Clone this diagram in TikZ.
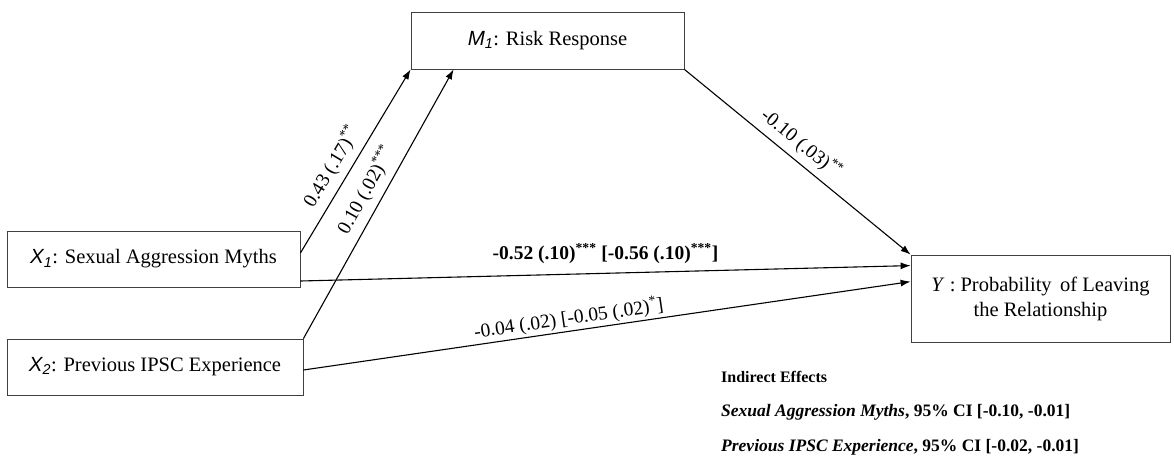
\documentclass[tikz,border=0pt]{standalone}
\usepackage{fontspec}
\setmainfont{Liberation Serif}
\newfontfamily\varfont{Liberation Sans}
\usetikzlibrary{arrows.meta,positioning,calc}

\newcommand{\varX}[1]{{\varfont\itshape X\textsubscript{#1}}\rmfamily\upshape}
\newcommand{\varM}[1]{{\varfont\itshape M\textsubscript{#1}}\rmfamily\upshape}

\begin{document}
\begin{tikzpicture}[x=1pt,y=-1pt,
  box/.style={draw=black!75,line width=0.8pt,inner sep=0pt,align=center,
    font=\rmfamily\fontsize{20.5}{25}\selectfont},
  arr/.style={line width=1.1pt,-{Latex[length=10pt,width=7pt]}},
  coef/.style={font=\fontsize{19.5}{22}\selectfont,inner sep=2pt},
  note/.style={anchor=west,inner sep=0pt,font=\fontsize{17.5}{20}\selectfont\bfseries}]
\useasboundingbox (0,0) rectangle (1174,464);
% draw boxes
\node[box,minimum width=293pt,minimum height=56pt] (x1) at (153.5,259) {\varX{1}: Sexual Aggression Myths};
\node[box,minimum width=296pt,minimum height=56pt] (x2) at (155,367) {\varX{2}: Previous IPSC Experience};
\node[box,minimum width=273pt,minimum height=57pt] (m1) at (547.5,40.5) {\varM{1}: Risk Response};
\node[box,minimum width=259pt,minimum height=87pt] (y) at (1040.5,298.5) {\textit{Y} : Probability\, of Leaving\\the Relationship};
% draw paths
\draw[arr] ([yshift=6pt]x1.east) -- (m1.south west)
  node[coef,pos=0.42,sloped,above=5pt] {0.43 (.17)\textsuperscript{**}};
\draw[arr] (x2.north east) -- ([xshift=43pt]m1.south west)
  node[coef,pos=0.52,sloped,above=5pt] {0.10 (.02)\textsuperscript{***}};
\draw[arr] (m1.south east) -- (y.north west)
  node[coef,pos=0.47,sloped,above=4pt] {-0.10 (.03)\textsuperscript{**}};
\draw[arr] ([yshift=-22pt]x1.east) -- ([yshift=-11pt]y.north west)
  node[coef,pos=0.5,above=7pt,font=\fontsize{19.5}{22}\selectfont\bfseries] {-0.52 (.10)\textsuperscript{***} [-0.56 (.10)\textsuperscript{***}]};
\draw[arr] ([yshift=-3pt]x2.east) -- ([yshift=-27pt]y.north west)
  node[coef,pos=0.44,sloped,above=0pt] {-0.04 (.02) [-0.05 (.02)\textsuperscript{*}]};
% indirect effects
\node[note,font=\fontsize{16}{19}\selectfont\bfseries] (ie) at (721,377) {Indirect Effects};
\node[note] (ie1) at (721,412) {\textit{Sexual Aggression Myths}, 95\% CI [-0.10, -0.01]};
\node[note] (ie2) at (721,447) {\textit{Previous IPSC Experience}, 95\% CI [-0.02, -0.01]};
\end{tikzpicture}
\end{document}
